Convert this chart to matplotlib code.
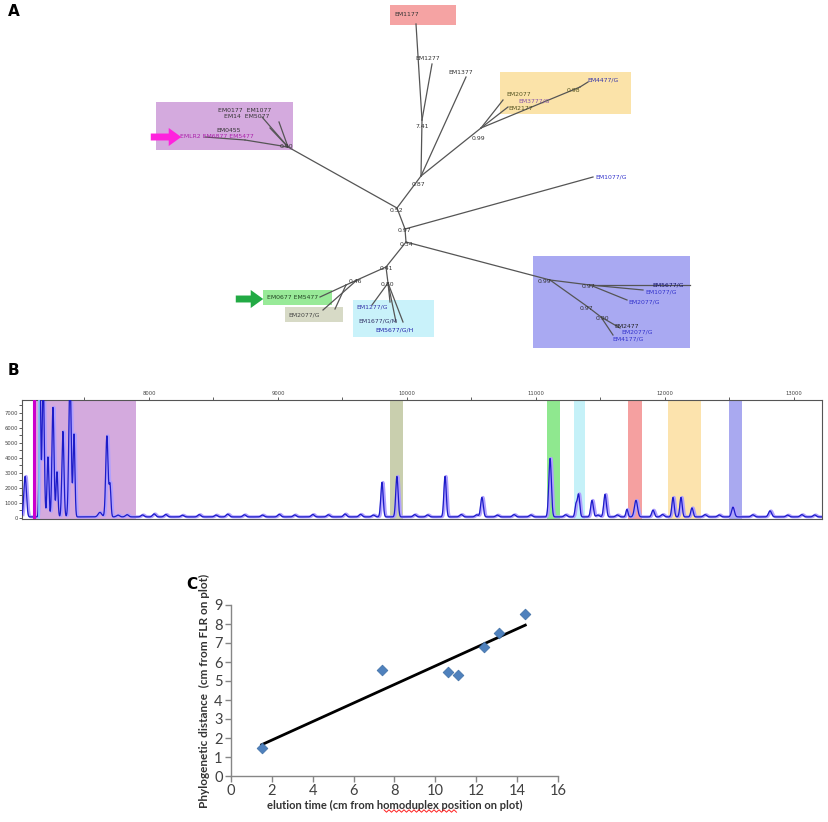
import numpy as np
import matplotlib
matplotlib.use('Agg')
import matplotlib.pyplot as plt
from matplotlib.patches import Rectangle

W, H = 829, 822

# ---------------- panel A: tree (pixel positions) ----------------
tree_nodes = {
    'R0': (397, 208), 'N1': (421, 176), 'R1': (405, 229), 'R2': (406, 242),
    'P0': (288, 147), 'Pa': (270, 128), 'Pb': (279, 122), 'Pc': (245, 140), 'Pd': (205, 137),
    'Pe': (262, 117),
    'Nr': (422, 120), 'L1177': (416, 24), 'L1277': (432, 64), 'L1377': (466, 77),
    'Y0': (481, 128), 'Ya': (503, 100), 'Yb': (508, 107), 'Y1': (580, 87), 'Yc': (588, 82),
    'L1077G': (593, 177),
    'B0': (550, 280), 'B1': (590, 285), 'Ba': (690, 285), 'Bb': (643, 290), 'Bc': (627, 300),
    'B2': (588, 307), 'B3': (601, 317), 'Bd': (620, 328), 'Be': (613, 335),
    'Nl': (386, 267), 'Ng': (357, 280), 'Ng2': (346, 285), 'Ga': (320, 297),
    'Oa': (323, 310), 'Ob': (335, 309),
    'Nc': (388, 283), 'Ca': (372, 305), 'Cb': (390, 302), 'Cc': (403, 322), 'Cd': (396, 322),
}
tree_edges = [
    ('P0', 'R0'), ('R0', 'N1'), ('R0', 'R1'), ('R1', 'R2'),
    ('P0', 'Pa'), ('P0', 'Pb'), ('P0', 'Pc'), ('Pc', 'Pd'), ('P0', 'Pe'),
    ('N1', 'Nr'), ('Nr', 'L1177'), ('Nr', 'L1277'), ('N1', 'L1377'),
    ('N1', 'Y0'), ('Y0', 'Ya'), ('Y0', 'Yb'), ('Y0', 'Y1'), ('Y1', 'Yc'),
    ('R1', 'L1077G'),
    ('R2', 'B0'), ('B0', 'B1'), ('B1', 'Ba'), ('B1', 'Bb'), ('B1', 'Bc'),
    ('B0', 'B2'), ('B2', 'B3'), ('B3', 'Bd'), ('B3', 'Be'),
    ('R2', 'Nl'), ('Nl', 'Ng'), ('Ng', 'Ng2'), ('Ng2', 'Ga'), ('Ng', 'Oa'), ('Ng2', 'Ob'),
    ('Nl', 'Nc'), ('Nc', 'Ca'), ('Nc', 'Cb'), ('Nc', 'Cc'), ('Nc', 'Cd'),
]
# clade boxes: x0, y0, x1, y1, colour
clade_boxes = [
    (390, 5, 456, 25, '#f5a3a3'),
    (156, 102, 293, 150, '#d4aade'),
    (500, 72, 631, 114, '#fbe3a9'),
    (263, 290, 332, 305, '#98ea98'),
    (285, 307, 343, 322, '#d7dac6'),
    (353, 300, 434, 337, '#c9f2fa'),
    (533, 256, 690, 348, '#a9a9f2'),
]
leaf_labels = [
    (394, 15, 'EM1177', '#333333'), (415, 59, 'EM1277', '#333333'),
    (448, 73, 'EM1377', '#333333'), (416, 126, '7.41', '#333333'),
    (412, 184, '0.87', '#333333'),
    (587, 80, 'EM4477/G', '#3333aa'), (506, 95, 'EM2077', '#555522'),
    (518, 101, 'EM3777/G', '#8855aa'), (508, 108, 'EM2177', '#555522'),
    (567, 91, '0.98', '#555522'), (472, 138, '0.99', '#333333'),
    (595, 177, 'EM1077/G', '#3333cc'),
    (218, 110, 'EM0177  EM1077', '#333333'), (224, 117, 'EM14  EM5077', '#333333'),
    (216, 130, 'EM0455', '#333333'), (180, 137, 'EMLR2 EM6877 EM5477', '#aa22aa'),
    (280, 146, '0.90', '#333333'),
    (390, 210, '0.52', '#333333'), (398, 230, '0.97', '#333333'),
    (400, 244, '0.34', '#333333'), (380, 268, '0.41', '#333333'),
    (381, 284, '0.80', '#333333'), (349, 281, '0.46', '#333333'),
    (538, 281, '0.99', '#333333'), (582, 286, '0.97', '#333333'),
    (652, 285, 'EM5677/G', '#111166'), (645, 292, 'EM1077/G', '#3333cc'),
    (628, 302, 'EM2077/G', '#3333cc'), (580, 308, '0.97', '#333333'),
    (596, 318, '0.90', '#333333'), (614, 326, 'EM2477', '#222222'),
    (621, 332, 'EM2077/G', '#3333cc'), (612, 339, 'EM4177/G', '#3333cc'),
    (267, 297, 'EM0677 EM5477', '#224422'), (288, 315, 'EM2077/G', '#444444'),
    (356, 307, 'EM1277/G', '#3333aa'), (358, 321, 'EM1677/G/M', '#333366'),
    (375, 330, 'EM5677/G/H', '#2222aa'),
]

# ---------------- panel B: chromatogram ----------------
b_tick_values = [8000, 9000, 10000, 11000, 12000, 13000]
b_bands = [  # start, end, colour
    (7116, 7899, '#d4aade'), (9868, 9969, '#c9cfae'), (11085, 11186, '#8fe88f'),
    (11295, 11380, '#c5f1f8'), (11713, 11822, '#f5a0a0'), (12023, 12279, '#fce3ad'),
    (12496, 12597, '#a9a9f0'),
]
peak_pos = [7040, 7155, 7180, 7217, 7256, 7287, 7333, 7388, 7419, 7620, 7674, 7698,
            9806, 9922, 10295, 10581, 11109, 11310, 11330, 11434, 11535, 11705, 11775,
            11907, 12062, 12124, 12209, 12527, 12814]
peak_height = [2700, 9500, 9500, 4000, 7300, 3000, 5700, 9500, 5500, 300, 5400, 2100,
               2300, 2700, 2700, 1300, 3900, 800, 1500, 1100, 1500, 500, 1100,
               450, 1300, 1300, 600, 650, 400]
peak_sigma = [10, 6, 8, 7, 8, 7, 8, 9, 7, 14, 9, 7,
              9, 9, 9, 10, 10, 8, 9, 10, 10, 8, 12,
              10, 9, 9, 9, 11, 12]
bump_pos = [7760, 7830, 7950, 8040, 8130, 8260, 8390, 8520, 8610, 8740, 8880, 9010,
            9130, 9270, 9390, 9520, 9640, 9740, 10060, 10160, 10420, 10540, 10700,
            10830, 10960, 11230, 11480, 11630, 11980, 12310, 12420, 12680, 12950,
            13060, 13160]
bump_height = [120, 150, 130, 200, 160, 110, 150, 120, 180, 140, 120, 170,
               130, 160, 140, 190, 170, 120, 150, 130, 160, 140, 120,
               150, 130, 140, 120, 130, 160, 150, 130, 140, 120, 150, 130]

# ---------------- panel C: scatter ----------------
elution = [1.5, 7.4, 10.6, 11.1, 12.4, 13.1, 14.4]
distance = [1.5, 5.6, 5.5, 5.3, 6.8, 7.55, 8.55]


def main():
    fig = plt.figure(figsize=(W / 100, H / 100), dpi=100)
    draw_tree(fig)
    draw_chromatogram(fig)
    draw_scatter(fig)
    fig.text(8 / W, 1 - 12 / H, 'A', fontsize=11, fontweight='bold', va='center')
    fig.text(8 / W, 1 - 370 / H, 'B', fontsize=11, fontweight='bold', va='center')
    fig.text(186 / W, 1 - 584 / H, 'C', fontsize=11, fontweight='bold', va='center')
    fig.savefig('out.png', dpi=100)


def draw_tree(fig):
    ax = fig.add_axes([0, 1 - 350 / H, 1, 350 / H])
    ax.set_xlim(0, W)
    ax.set_ylim(350, 0)
    ax.axis('off')
    for x0, y0, x1, y1, c in clade_boxes:
        ax.add_patch(Rectangle((x0, y0), x1 - x0, y1 - y0, color=c, lw=0, zorder=0))
    for a, b in tree_edges:
        (xa, ya), (xb, yb) = tree_nodes[a], tree_nodes[b]
        ax.plot([xa, xb], [ya, yb], color='#555555', lw=0.9, zorder=2)
    for x, y, s, c in leaf_labels:
        ax.text(x, y, s, fontsize=4.4, color=c, va='center', ha='left', zorder=3)
    ax.annotate('', xy=(184, 137), xytext=(148, 137), zorder=4,
                arrowprops=dict(arrowstyle='simple,head_width=1.3,head_length=0.9,tail_width=0.5',
                                color='#ff22dd', lw=0))
    ax.annotate('', xy=(266, 299), xytext=(233, 299), zorder=4,
                arrowprops=dict(arrowstyle='simple,head_width=1.3,head_length=0.9,tail_width=0.5',
                                color='#22aa44', lw=0))


def draw_chromatogram(fig):
    ax = fig.add_axes([22 / W, 1 - 519 / H, 800 / W, 119 / H])
    x = np.linspace(7016, 13217, 6000)
    y = np.full_like(x, 60.0)
    for p, h, s in zip(peak_pos, peak_height, peak_sigma):
        y += h * np.exp(-0.5 * ((x - p) / s) ** 2)
    for p, h in zip(bump_pos, bump_height):
        y += h * np.exp(-0.5 * ((x - p) / 12) ** 2)
    for a, b, c in b_bands:
        ax.axvspan(a, b, color=c, lw=0, zorder=0)
    ax.plot(x + 8, y, color='#b0a0ff', lw=2.2, zorder=2)
    ax.plot(x, y, color='#1c1cc8', lw=0.9, zorder=3)
    ax.axvline(7109, color='#cc00cc', lw=2.2, zorder=4)
    ax.axvline(7150, color='#88ccff', lw=1.2, zorder=4)
    ax.set_xlim(7016, 13217)
    ax.set_ylim(-80, 7850)
    ax.xaxis.tick_top()
    ax.set_xticks(b_tick_values)
    ax.set_xticklabels([str(v) for v in b_tick_values])
    ax.set_xticks(np.arange(7500, 13217, 500), minor=True)
    ax.set_yticks(np.arange(0, 7001, 1000))
    ax.set_yticks(np.arange(0, 7801, 500), minor=True)
    ax.tick_params(axis='both', which='both', labelsize=3.8, colors='#444444',
                   length=2, width=0.6, pad=1)
    for sp in ax.spines.values():
        sp.set_color('#555555')
        sp.set_linewidth(0.8)


def draw_scatter(fig):
    ax = fig.add_axes([231 / W, 1 - 776 / H, 327 / W, 171 / H])
    slope, intercept = np.polyfit(elution, distance, 1)
    xs = np.array([min(elution), max(elution)])
    ax.plot(xs, slope * xs + intercept, color='black', lw=2, zorder=2)
    ax.scatter(elution, distance, marker='D', s=30, color='#4f81bd',
               edgecolors='#3f6fa5', linewidths=0.5, zorder=3)
    ax.set_xlim(0, 16)
    ax.set_ylim(0, 9)
    ax.set_xticks(range(0, 17, 2))
    ax.set_yticks(range(0, 10))
    for side in ('top', 'right'):
        ax.spines[side].set_visible(False)
    for side in ('left', 'bottom'):
        ax.spines[side].set_color('#868686')
        ax.spines[side].set_linewidth(1)
    ax.tick_params(labelsize=10.5, colors='#868686', labelcolor='#404040',
                   length=4, width=1, pad=2)
    for t in ax.get_xticklabels() + ax.get_yticklabels():
        t.set_family('Lato')
    ax.set_ylabel('Phylogenetic distance  (cm from FLR on plot)', fontsize=8.5,
                  fontweight='bold', family='Lato', color='#333333', labelpad=3)
    ax.set_xlabel('elution time (cm from homoduplex position on plot)', fontsize=8,
                  fontweight='bold', family='Lato', color='#333333', labelpad=1)
    # red spell-check squiggle under "homoduplex"
    zx = np.arange(384, 458, 2.5)
    zy = 811 + np.where(np.arange(len(zx)) % 2 == 0, -1.2, 1.2)
    fig.add_artist(plt.Line2D(zx / W, 1 - zy / H, color='#ff2222', lw=0.7))


if __name__ == '__main__':
    main()
